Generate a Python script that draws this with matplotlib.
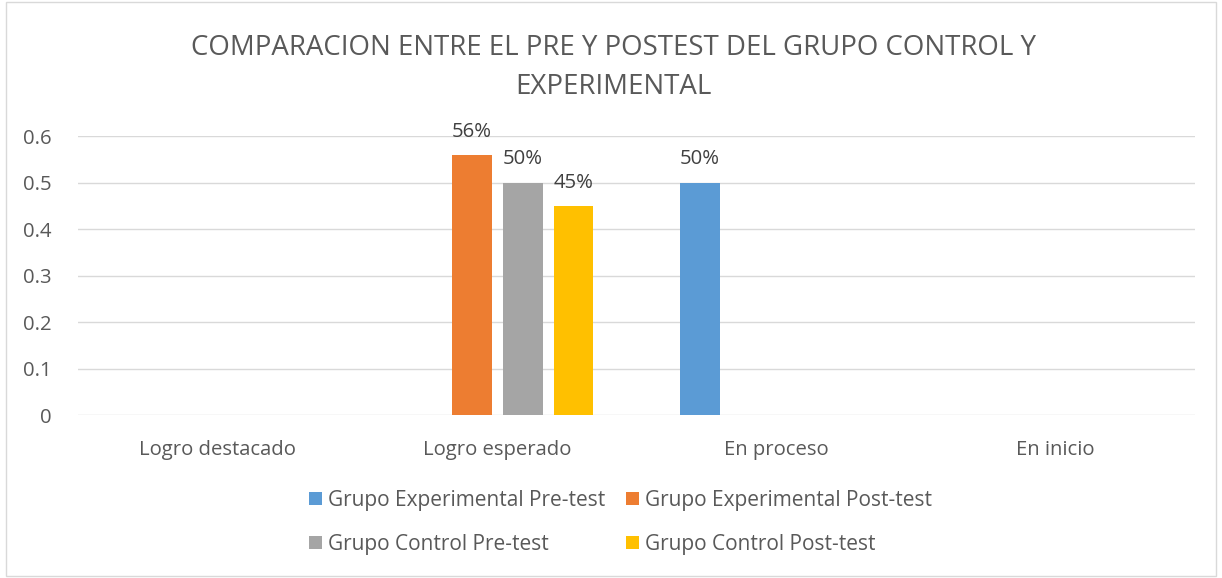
import matplotlib
matplotlib.use("Agg")
import matplotlib.pyplot as plt
import numpy as np
from matplotlib.patches import Patch, Rectangle

plt.rcParams['font.family'] = ['Open Sans', 'DejaVu Sans']

categories = ["Logro destacado", "Logro esperado", "En proceso", "En inicio"]
series_names = ["Grupo Experimental Pre-test", "Grupo Experimental Post-test",
                "Grupo Control Pre-test", "Grupo Control Post-test"]
exp_pre = [0, 0, 0.50, 0]
exp_post = [0, 0.56, 0, 0]
ctrl_pre = [0, 0.50, 0, 0]
ctrl_post = [0, 0.45, 0, 0]
colors = ["#5B9BD5", "#ED7D31", "#A5A5A5", "#FFC000"]
yticks = [0, 0.1, 0.2, 0.3, 0.4, 0.5, 0.6]
ytick_labels = ["0", "0.1", "0.2", "0.3", "0.4", "0.5", "0.6"]
title = "COMPARACION ENTRE EL PRE Y POSTEST DEL GRUPO CONTROL Y\nEXPERIMENTAL"

txt = "#595959"
fs = 14.6
fig = plt.figure(figsize=(12.22, 5.78), dpi=100)
fig.patches.append(Rectangle((0.005, 0.003), 0.99, 0.994, transform=fig.transFigure,
                             fill=False, edgecolor="#D9D9D9", linewidth=1.0))
ax = fig.add_axes([0.064, 0.282, 0.914, 0.4827])

x = np.arange(len(categories))
slot = 0.1826
width = 0.143
all_series = [exp_pre, exp_post, ctrl_pre, ctrl_post]
for i, (vals, c) in enumerate(zip(all_series, colors)):
    pos = x + (i - 1.5) * slot
    ax.bar(pos, vals, width=width, color=c, zorder=3)
    for p, v in zip(pos, vals):
        if v > 0:
            ax.text(p, v + 0.028, f"{round(v*100)}%", ha="center", va="bottom",
                    fontsize=fs, color="#404040", zorder=4)

ax.set_xlim(-0.5, len(categories) - 0.5)
ax.set_ylim(0, 0.6)
ax.set_yticks(yticks)
ax.set_yticklabels(ytick_labels)
ax.set_xticks(x)
ax.set_xticklabels(categories)
ax.grid(axis="y", color="#D9D9D9", linewidth=1.0, zorder=0)
for s in ax.spines.values():
    s.set_visible(False)
ax.tick_params(axis="both", length=0, colors=txt, labelsize=fs)
ax.tick_params(axis="y", pad=19)
ax.tick_params(axis="x", pad=18)

fig.text(0.502, 0.884, title, ha="center", va="center", fontsize=19.9, color=txt,
         linespacing=1.52)

order = [0, 2, 1, 3]
handles = [Patch(facecolor=colors[i], edgecolor="none") for i in order]
labels = [series_names[i] for i in order]
leg = fig.legend(handles, labels, ncol=2, loc="center",
                 bbox_to_anchor=(0.508, 0.096), frameon=False, fontsize=15,
                 handlelength=0.6, handleheight=0.6, handletextpad=0.3,
                 columnspacing=1.0, labelspacing=1.1)
for t in leg.get_texts():
    t.set_color(txt)

fig.savefig("out.png", dpi=100)
